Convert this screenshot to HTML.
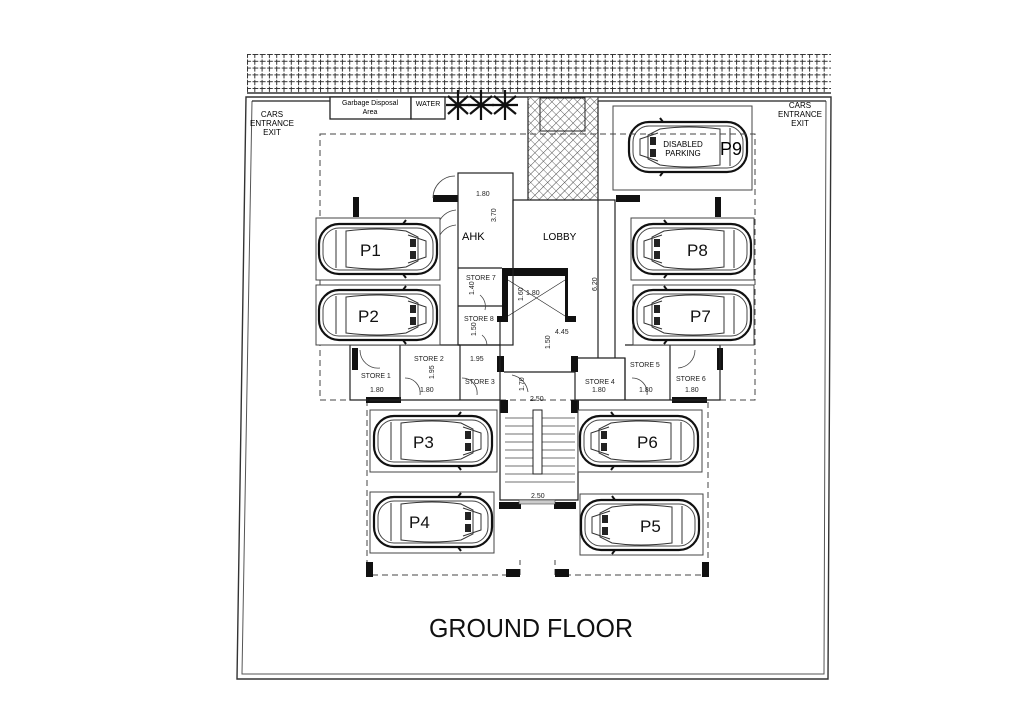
<!DOCTYPE html>
<html><head><meta charset="utf-8"><style>
html,body{margin:0;padding:0;background:#fff;}
svg{display:block;font-family:"Liberation Sans",sans-serif;}
</style></head><body>
<svg width="1024" height="724" viewBox="0 0 1024 724" xmlns="http://www.w3.org/2000/svg">
<defs>
<pattern id="grid" x="247" y="54" width="7.3" height="6.8" patternUnits="userSpaceOnUse">
<rect width="7.3" height="6.8" fill="#fff"/><path d="M0 0.5H7.3M0.5 0V6.8" stroke="#333" stroke-width="1" stroke-dasharray="4 1.5"/>
</pattern>
<pattern id="hatch" width="6" height="6" patternUnits="userSpaceOnUse" patternTransform="rotate(45)">
<rect width="6" height="6" fill="#fff"/><path d="M0 0V6" stroke="#444" stroke-width="1"/>
</pattern>
<pattern id="hatch2" width="6" height="6" patternUnits="userSpaceOnUse" patternTransform="rotate(-45)">
<path d="M0 0V6" stroke="#444" stroke-width="0.8"/>
</pattern>
<g id="car">
<rect x="1" y="3" width="118" height="50" rx="20" fill="#fff" stroke="#111" stroke-width="2.2"/>
<rect x="5" y="7" width="110" height="42" rx="16" fill="none" stroke="#444" stroke-width="1"/>
<path d="M18 9 L18 47 M28 10 Q60 6 88 10 L100 16 L100 40 L88 46 Q60 50 28 46 Z" fill="none" stroke="#333" stroke-width="1"/>
<path d="M90 14 L108 20 L108 36 L90 42" fill="none" stroke="#333" stroke-width="1"/>
<rect x="92" y="18" width="6" height="8" fill="#222"/><rect x="92" y="30" width="6" height="8" fill="#222"/>
<path d="M85 3 l3 -4 M85 53 l3 4" stroke="#111" stroke-width="2"/>
</g>
</defs>

<!-- top grid band -->
<rect x="247" y="54" width="584" height="39" fill="url(#grid)"/>
<path d="M247 93 H831" stroke="#333" stroke-width="1.5"/>
<!-- outer boundary -->
<path d="M246 97 L237 679 H828 L831 97 Z" fill="none" stroke="#333" stroke-width="1.4"/>
<path d="M252 101 L242 674 H824 L826 101" fill="none" stroke="#555" stroke-width="1"/>
<path d="M252 101 H330 M598 101 H826" fill="none" stroke="#222" stroke-width="1.2"/>
<text x="272" y="117" font-size="8" text-anchor="middle">CARS</text>
<text x="272" y="126" font-size="8" text-anchor="middle">ENTRANCE</text>
<text x="272" y="135" font-size="8" text-anchor="middle">EXIT</text>
<text x="800" y="108" font-size="8" text-anchor="middle">CARS</text>
<text x="800" y="117" font-size="8" text-anchor="middle">ENTRANCE</text>
<text x="800" y="126" font-size="8" text-anchor="middle">EXIT</text>

<!-- garbage / water -->
<rect x="330" y="97" width="81" height="22" fill="#fff" stroke="#222" stroke-width="1.3"/>
<rect x="411" y="97" width="34" height="22" fill="#fff" stroke="#222" stroke-width="1.3"/>
<text x="370" y="105" font-size="7" text-anchor="middle">Garbage Disposal</text>
<text x="370" y="114" font-size="7" text-anchor="middle">Area</text>
<text x="428" y="106" font-size="7" text-anchor="middle">WATER</text>
<!-- plants -->
<g stroke="#111" stroke-width="2.2" fill="none">
<path d="M448 96 L468 114 M448 114 L468 96 M458 90 L458 120 M446 105 L470 105"/>
<path d="M470 96 L492 114 M470 114 L492 96 M481 90 L481 120 M468 105 L494 105"/>
<path d="M494 96 L516 114 M494 114 L516 96 M505 90 L505 120 M492 105 L518 105"/>
</g>
<!-- hatched entrance -->
<rect x="528" y="97" width="70" height="103" fill="url(#hatch)" stroke="#222"/>
<rect x="528" y="97" width="70" height="103" fill="url(#hatch2)"/>
<rect x="540" y="98" width="45" height="33" fill="none" stroke="#222"/>
<path d="M598 101 V200 M528 101 V200" stroke="#222" stroke-width="1.2"/>

<!-- disabled parking -->
<rect x="613" y="106" width="139" height="84" fill="#fff" stroke="#444" stroke-width="1"/>
<use href="#car" transform="translate(748,119) scale(-1,1)"/>
<text x="683" y="147" font-size="8" text-anchor="middle">DISABLED</text>
<text x="683" y="156" font-size="8" text-anchor="middle">PARKING</text>
<text x="720" y="155" font-size="18">P9</text>

<!-- dashed zones -->
<rect x="320" y="134" width="435" height="266" fill="none" stroke="#444" stroke-dasharray="6 4"/>
<path d="M367 400 V575 H520 M555 575 H708 V400" fill="none" stroke="#444" stroke-dasharray="6 4"/>
<path d="M520 575 V560 M555 575 V560" fill="none" stroke="#444" stroke-dasharray="6 4"/>

<!-- pillars -->
<g fill="#111">
<rect x="353" y="197" width="6" height="20"/><rect x="715" y="197" width="6" height="20"/>
<rect x="433" y="195" width="25" height="7"/><rect x="616" y="195" width="24" height="7"/>
<rect x="352" y="348" width="6" height="22"/><rect x="717" y="348" width="6" height="22"/>
<rect x="366" y="397" width="35" height="6"/><rect x="672" y="397" width="35" height="6"/>
<rect x="497" y="356" width="7" height="16"/><rect x="571" y="356" width="7" height="16"/>
<rect x="500" y="400" width="8" height="13"/><rect x="571" y="400" width="8" height="13"/>
<rect x="499" y="502" width="22" height="7"/><rect x="554" y="502" width="22" height="7"/>
<rect x="366" y="562" width="7" height="15"/><rect x="702" y="562" width="7" height="15"/>
<rect x="506" y="569" width="14" height="8"/><rect x="555" y="569" width="14" height="8"/>
<path d="M502 268 H568 V316 H576 V322 H565 V276 H508 V322 H497 V316 H502 Z"/>
</g>

<!-- core walls -->
<g fill="none" stroke="#222" stroke-width="1.2">
<rect x="458" y="173" width="55" height="172"/>
<path d="M513 200 H615 V358 M513 200 V268 M598 200 V358 M578 358 H625 V400 M500 322 V400 M504 372 H575 M500 372 V500 H578 V400"/>
<path d="M458 268 H502 M458 306 H502 M458 345 H500"/>
<path d="M350 345 V400 H500 M400 345 V400 M460 345 V400 M575 372 V400 H720 V345 M625 358 V400 M670 345 V400 M350 345 H460 M625 345 H720"/>
<path d="M508 280 L565 316 M565 280 L508 316" stroke-width="0.6"/>
</g>
<!-- stairs -->
<g stroke="#444" stroke-width="0.7">
<path d="M505 418 H575 M505 426 H575 M505 434 H575 M505 442 H575 M505 450 H575 M505 458 H575 M505 466 H575 M505 474 H575 M505 482 H575"/>
</g>
<rect x="533" y="410" width="9" height="64" fill="#fff" stroke="#222"/>
<rect x="519" y="500" width="36" height="4" fill="#ccc" stroke="#444" stroke-width="0.6"/>
<!-- doors -->
<g fill="none" stroke="#444" stroke-width="0.8">
<path d="M433 198 A22 22 0 0 1 455 176"/>
<path d="M438 225 A20 20 0 0 1 456 210 M438 240 A20 20 0 0 1 456 225"/>
<path d="M480 295 A15 15 0 0 1 485 310 M482 335 A14 14 0 0 1 487 345"/>
<path d="M360 350 A18 18 0 0 0 380 368 M405 378 A15 15 0 0 1 420 395 M462 378 A15 15 0 0 1 477 395"/>
<path d="M632 378 A15 15 0 0 1 647 395 M695 350 A18 18 0 0 1 678 368 M512 375 A20 20 0 0 1 528 392"/>
</g>

<!-- labels -->
<g font-size="7" fill="#222">
<text x="476" y="196">1.80</text>
<text x="496" y="222" transform="rotate(-90 496 222)">3.70</text>
<text x="466" y="280">STORE 7</text>
<text x="474" y="295" transform="rotate(-90 474 295)">1.40</text>
<text x="464" y="321">STORE 8</text>
<text x="476" y="336" transform="rotate(-90 476 336)">1.50</text>
<text x="526" y="295">1.80</text>
<text x="523" y="301" transform="rotate(-90 523 301)">1.60</text>
<text x="555" y="334">4.45</text>
<text x="550" y="349" transform="rotate(-90 550 349)">1.50</text>
<text x="597" y="291" transform="rotate(-90 597 291)">6.20</text>
<text x="414" y="361">STORE 2</text>
<text x="470" y="361">1.95</text>
<text x="434" y="379" transform="rotate(-90 434 379)">1.95</text>
<text x="361" y="378">STORE 1</text>
<text x="465" y="384">STORE 3</text>
<text x="370" y="392">1.80</text>
<text x="420" y="392">1.80</text>
<text x="524" y="391" transform="rotate(-90 524 391)">1.70</text>
<text x="530" y="401">2.50</text>
<text x="630" y="367">STORE 5</text>
<text x="585" y="384">STORE 4</text>
<text x="676" y="381">STORE 6</text>
<text x="592" y="392">1.80</text>
<text x="639" y="392">1.80</text>
<text x="685" y="392">1.80</text>
<text x="531" y="498">2.50</text>
</g>
<text x="462" y="240" font-size="11">AHK</text>
<text x="543" y="240" font-size="10">LOBBY</text>

<!-- parking bays -->
<g fill="#fff" stroke="#444" stroke-width="1">
<rect x="316" y="218" width="124" height="62"/>
<rect x="316" y="285" width="124" height="60"/>
<rect x="631" y="218" width="123" height="62"/>
<rect x="633" y="285" width="121" height="60"/>
<rect x="370" y="410" width="127" height="62"/>
<rect x="370" y="492" width="124" height="61"/>
<rect x="578" y="410" width="124" height="62"/>
<rect x="580" y="494" width="123" height="61"/>
</g>
<use href="#car" transform="translate(318,221)"/>
<use href="#car" transform="translate(318,287)"/>
<use href="#car" transform="translate(752,221) scale(-1,1)"/>
<use href="#car" transform="translate(752,287) scale(-1,1)"/>
<use href="#car" transform="translate(373,413)"/>
<use href="#car" transform="translate(373,494)"/>
<use href="#car" transform="translate(699,413) scale(-1,1)"/>
<use href="#car" transform="translate(700,497) scale(-1,1)"/>
<g font-size="17" fill="#111">
<text x="360" y="256">P1</text>
<text x="358" y="322">P2</text>
<text x="687" y="256">P8</text>
<text x="690" y="322">P7</text>
<text x="413" y="448">P3</text>
<text x="409" y="528">P4</text>
<text x="637" y="448">P6</text>
<text x="640" y="532">P5</text>
</g>

<text x="429" y="637" font-size="26" textLength="204" lengthAdjust="spacingAndGlyphs" fill="#111">GROUND FLOOR</text>
</svg>
</body></html>
